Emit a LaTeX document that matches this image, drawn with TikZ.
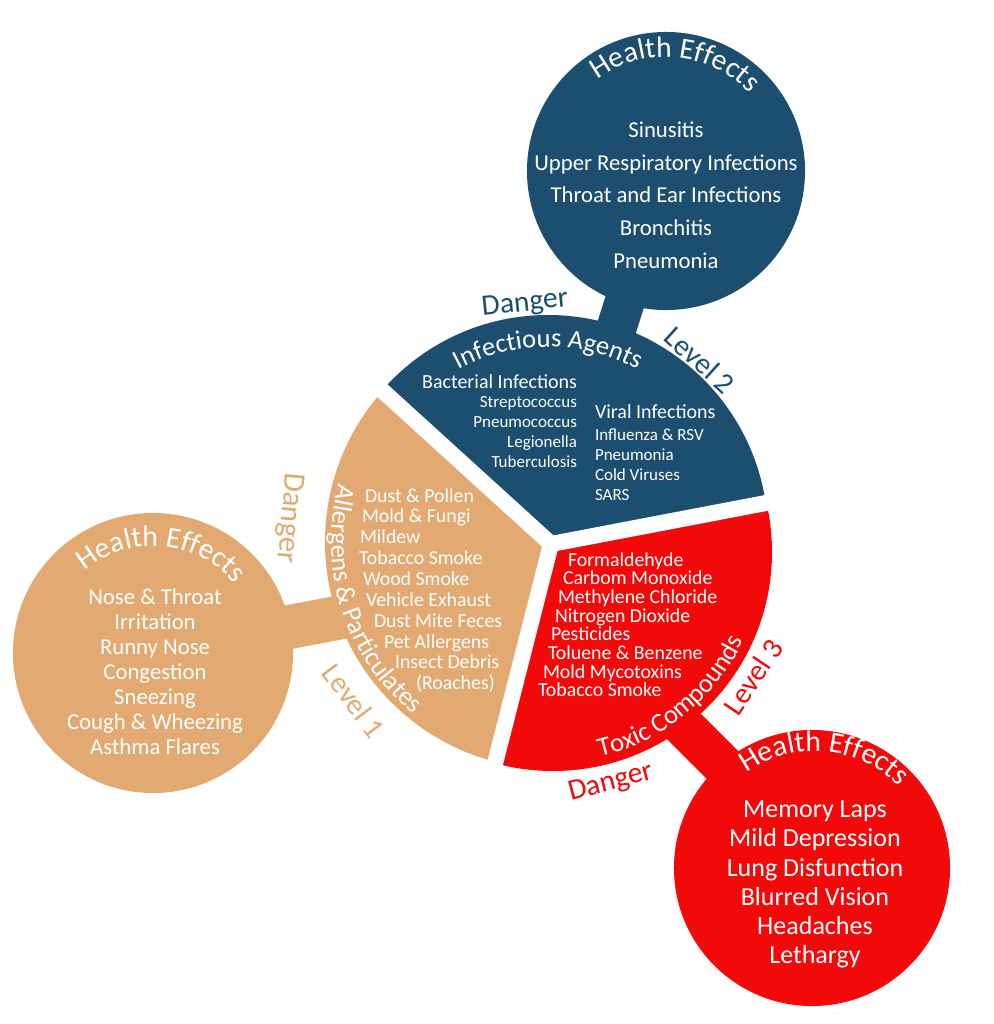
\documentclass[tikz,border=0pt]{standalone}
\usepackage{fontspec}
\setmainfont{Carlito}
\usetikzlibrary{calc,decorations.text}
\definecolor{bluec}{HTML}{1C4E6F}
\definecolor{tanc}{HTML}{E2AA72}
\definecolor{redc}{HTML}{F20A0A}
\newcommand{\fsz}[1]{\fontsize{#1pt}{#1pt}\selectfont}
\begin{document}
\begin{tikzpicture}[x=0.025cm,y=-0.025cm,
  hcircle/.style={circle, inner sep=0pt, draw=none},
  gapline/.style={white, line width=0.4cm, line cap=round},
  itm/.style={inner sep=0pt, outer sep=0pt, text=white},
  lst/.style={itm, font=\fsz{16.15}, anchor=base},
  rlst/.style={itm, font=\fsz{18.5}, anchor=base},
  head/.style={itm, font=\fsz{14.2}},
  sub/.style={itm, font=\fsz{12.1}},
  sitem/.style={itm, font=\fsz{14.1}, anchor=base west},
  lbl/.style={inner sep=0pt, font=\fsz{21}}
]
\path[use as bounding box, fill=white] (0,0) rectangle (993,1024);

% health effect circles
\node[hcircle, fill=bluec, minimum size=6.95cm] (bc) at (666,171) {};
\node[hcircle, fill=tanc, minimum size=7cm] (tc) at (153,653) {};
\node[hcircle, fill=redc, minimum size=6.9cm] (rc) at (812,868) {};

% stems
\coordinate (bse) at (590,412);
\coordinate (tse) at (400,606);
\coordinate (rss) at (812,854.5);
\coordinate (rse) at (640,682.5);
\draw[bluec, line width=1cm] (bc.center) -- (bse);
\draw[tanc, line width=1.1cm] (tc.center) -- (tse);
\draw[redc, line width=1.05cm] (rss) -- (rse);

% sectors
\coordinate (J) at (551,544);
\coordinate (BS) at (548,535);
\coordinate (RS) at (553,552);
\coordinate (TS) at (552,542);
\begin{scope}
  \clip (J) -- ($(J)+(-137.7:400)$) -- ($(J)+(-74:400)$) -- ($(J)+(-10.8:400)$) -- cycle;
  \fill[bluec] (BS) circle[radius=220];
\end{scope}
\begin{scope}
  \clip (J) -- ($(J)+(-10.8:400)$) -- ($(J)+(46.75:400)$) -- ($(J)+(104.3:400)$) -- cycle;
  \fill[redc] (RS) circle[radius=219];
\end{scope}
\begin{scope}
  \clip (J) -- ($(J)+(104.3:400)$) -- ($(J)+(163.3:400)$) -- ($(J)+(222.3:400)$) -- cycle;
  \fill[tanc] (TS) circle[radius=227];
\end{scope}
\draw[gapline] (J) -- ($(J)+(-137.7:262)$);
\draw[gapline] (J) -- ($(J)+(-10.8:262)$);
\draw[gapline] (J) -- ($(J)+(104.3:262)$);

% curved titles
\path[decorate, decoration={text along path, text align=center,
  text={|\fsz{18.85}\color{white}|Infectious Agents}}]
  ($(BS)+(-140:188)$) arc[start angle=-140, end angle=-40, radius=188];
\path[decorate, decoration={text along path, text align=center,
  text={|\fsz{18.85}\color{white}|Allergens {\&} Particulates}}]
  ($(TS)+(232:221)$) arc[start angle=232, end angle=92, radius=221];
\path[decorate, decoration={text along path, text align=center,
  text={|\fsz{18.85}\color{white}|Toxic Compounds}}]
  ($(RS)+(100:210)$) arc[start angle=100, end angle=2, radius=210];

\path[decorate, decoration={text along path, text align=center,
  text={|\fsz{21}\color{white}|Health Effects}}]
  ($(bc.center)+(-135:114)$) arc[start angle=-135, end angle=-35, radius=114];
\path[decorate, decoration={text along path, text align=center,
  text={|\fsz{21}\color{white}|Health Effects}}]
  ($(tc.center)+(-135:107)$) arc[start angle=-135, end angle=-35, radius=107];
\coordinate (rht) at (815,868);
\path[decorate, decoration={text along path, text align=center,
  text={|\fsz{21}\color{white}|Health Effects}}]
  ($(rht)+(-135:117)$) arc[start angle=-135, end angle=-35, radius=117];

% blue health list
\node[lst] (b1) at (666,138) {Sinusitis};
\node[lst] (b2) at (666,171) {Upper Respiratory Infections};
\node[lst] (b3) at (666,203) {Throat and Ear Infections};
\node[lst] (b4) at (666,236) {Bronchitis};
\node[lst] (b5) at (666,269) {Pneumonia};

% tan health list
\node[lst] (t1) at (155,604) {Nose \& Throat};
\node[lst] (t2) at (155,629) {Irritation};
\node[lst] (t3) at (155,654) {Runny Nose};
\node[lst] (t4) at (155,679) {Congestion};
\node[lst] (t5) at (155,704) {Sneezing};
\node[lst] (t6) at (155,729) {Cough \& Wheezing};
\node[lst] (t7) at (155,754) {Asthma Flares};

% red health list
\node[rlst] (r1) at (815,817) {Memory Laps};
\node[rlst] (r2) at (815,846) {Mild Depression};
\node[rlst] (r3) at (815,876) {Lung Disfunction};
\node[rlst] (r4) at (815,905) {Blurred Vision};
\node[rlst] (r5) at (815,934) {Headaches};
\node[rlst] (r6) at (815,963) {Lethargy};

% infectious agents
\node[head, anchor=base east] (ba) at (577,388) {Bacterial Infections};
\node[sub, anchor=base east] (ba1) at (577,407) {Streptococcus};
\node[sub, anchor=base east] (ba2) at (577,427) {Pneumococcus};
\node[sub, anchor=base east] (ba3) at (577,447) {Legionella};
\node[sub, anchor=base east] (ba4) at (577,467) {Tuberculosis};
\node[head, anchor=base west] (vi) at (595,418) {Viral Infections};
\node[sub, anchor=base west] (vi1) at (595,440) {Influenza \& RSV};
\node[sub, anchor=base west] (vi2) at (595,460) {Pneumonia};
\node[sub, anchor=base west] (vi3) at (595,480) {Cold Viruses};
\node[sub, anchor=base west] (vi4) at (595,500) {SARS};

% allergens
\node[sitem] (a1) at (365,502) {Dust \& Pollen};
\node[sitem] (a2) at (362,522) {Mold \& Fungi};
\node[sitem] (a3) at (360,543) {Mildew};
\node[sitem] (a4) at (359,564) {Tobacco Smoke};
\node[sitem] (a5) at (363,585) {Wood Smoke};
\node[sitem] (a6) at (366,606) {Vehicle Exhaust};
\node[sitem] (a7) at (374,627) {Dust Mite Feces};
\node[sitem] (a8) at (384,648) {Pet Allergens};
\node[sitem] (a9) at (395,668) {Insect Debris};
\node[sitem] (a10) at (416,689) {(Roaches)};

% toxic
\node[sitem] (x1) at (568,566) {Formaldehyde};
\node[sitem] (x2) at (563,584) {Carbom Monoxide};
\node[sitem] (x3) at (558,603) {Methylene Chloride};
\node[sitem] (x4) at (555,622) {Nitrogen Dioxide};
\node[sitem] (x5) at (551,640) {Pesticides};
\node[sitem] (x6) at (548,659) {Toluene \& Benzene};
\node[sitem] (x7) at (543,678) {Mold Mycotoxins};
\node[sitem] (x8) at (538,696) {Tobacco Smoke};

% danger / level labels
\node[lbl, text=bluec, rotate=6] (bd) at (525,304) {Danger};
\node[lbl, text=bluec, rotate=-42] (bl) at (700,360) {Level 2};
\node[lbl, text=tanc, rotate=-95, font=\fsz{22}] (td) at (289,518) {Danger};
\node[lbl, text=tanc, rotate=-53] (tl) at (354,701) {Level 1};
\node[lbl, text=redc, rotate=15] (rd) at (611,783) {Danger};
\node[lbl, text=redc, rotate=56] (rl) at (753,677) {Level 3};
\end{tikzpicture}
\end{document}
